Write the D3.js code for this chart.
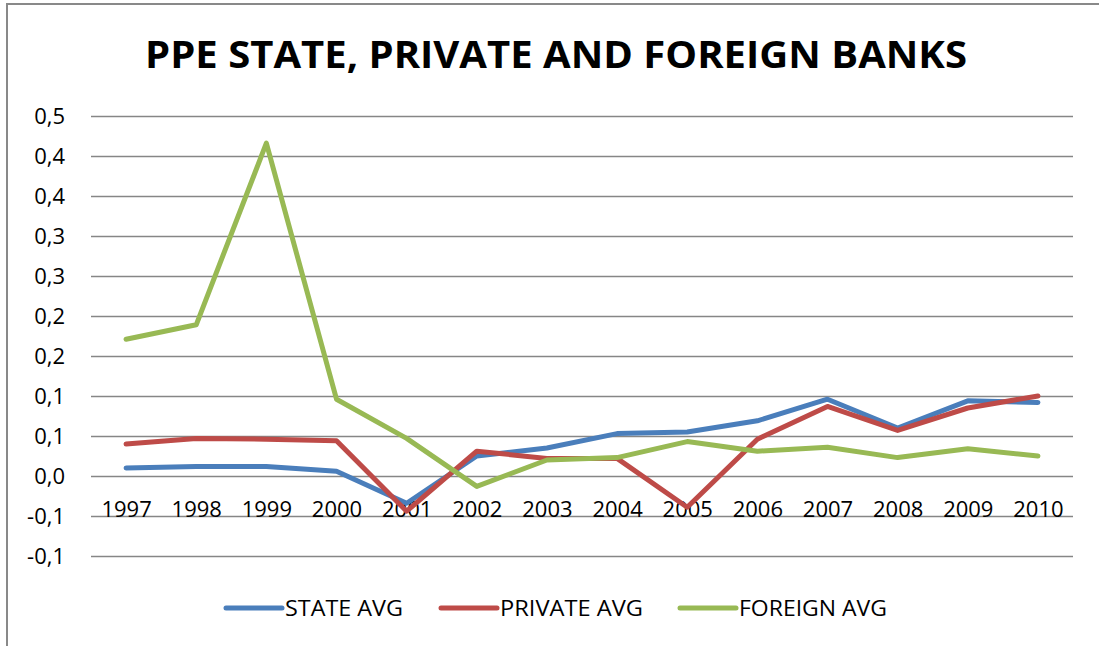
<!DOCTYPE html>
<html>
<head>
<meta charset="utf-8">
<script src="https://cdn.jsdelivr.net/npm/d3@7"></script>
<style>
  body { margin: 0; background: #fff; }
  svg { display: block; font-family: "Open Sans", sans-serif; }
</style>
</head>
<body>
<script>
// data
var years = ["1997", "1998", "1999", "2000", "2001", "2002", "2003", "2004", "2005", "2006", "2007", "2008", "2009", "2010"];
var stateAvg = [0.010, 0.012, 0.012, 0.006, -0.034, 0.025, 0.035, 0.053, 0.055, 0.069, 0.096, 0.060, 0.094, 0.092];
var privateAvg = [0.040, 0.047, 0.046, 0.044, -0.044, 0.031, 0.022, 0.022, -0.039, 0.046, 0.087, 0.057, 0.085, 0.100];
var foreignAvg = [0.171, 0.189, 0.416, 0.096, 0.047, -0.013, 0.020, 0.023, 0.043, 0.031, 0.036, 0.023, 0.034, 0.025];
var yTicks = [-0.1, -0.05, 0, 0.05, 0.1, 0.15, 0.2, 0.25, 0.3, 0.35, 0.4, 0.45];
var yTickLabels = ["-0,1", "-0,1", "0,0", "0,1", "0,1", "0,2", "0,2", "0,3", "0,3", "0,4", "0,4", "0,5"];
var seriesNames = ["STATE AVG", "PRIVATE AVG", "FOREIGN AVG"];
var seriesColors = ["#4a7ebb", "#be4b48", "#98b954"];

var width = 1099, height = 646;
var plot = { left: 91, right: 1073, top: 116, bottom: 556 };

var svg = d3.select("body").append("svg")
    .attr("width", width)
    .attr("height", height);

// chart frame
svg.append("rect")
    .attr("x", 7).attr("y", 4)
    .attr("width", 1110).attr("height", 660)
    .attr("fill", "#fff")
    .attr("stroke", "#898989")
    .attr("stroke-width", 2);

var x = d3.scalePoint()
    .domain(years)
    .range([plot.left, plot.right])
    .padding(0.5);
var y = d3.scaleLinear()
    .domain([-0.1, 0.45])
    .range([plot.bottom, plot.top]);

// gridlines
var grid = svg.append("g")
    .attr("transform", "translate(" + plot.left + ",0)")
    .call(d3.axisLeft(y).tickValues(yTicks).tickSize(-(plot.right - plot.left)).tickFormat(""));
grid.select(".domain").remove();
grid.selectAll("line").attr("stroke", "#868686").attr("stroke-width", 1.7);

// y axis labels
var yAxis = svg.append("g")
    .attr("transform", "translate(" + plot.left + ",0)")
    .call(d3.axisLeft(y).tickValues(yTicks).tickSize(0).tickPadding(26)
        .tickFormat(function(d, i) { return yTickLabels[i]; }));
yAxis.select(".domain").remove();
yAxis.selectAll("text").attr("font-size", 22).attr("fill", "#000")
    .style("font-family", "Open Sans, sans-serif");

// x axis labels, crossing at zero
var xAxis = svg.append("g")
    .attr("transform", "translate(0," + y(0) + ")")
    .call(d3.axisBottom(x).tickSize(0).tickPadding(25));
xAxis.select(".domain").remove();
xAxis.selectAll("text").attr("font-size", 22).attr("fill", "#000")
    .style("font-family", "Open Sans, sans-serif");

// lines
var line = d3.line()
    .x(function(d, i) { return x(years[i]); })
    .y(function(d) { return y(d); });

[stateAvg, privateAvg, foreignAvg].forEach(function(vals, k) {
    svg.append("path")
        .datum(vals)
        .attr("d", line)
        .attr("fill", "none")
        .attr("stroke", seriesColors[k])
        .attr("stroke-width", 5)
        .attr("stroke-linejoin", "round")
        .attr("stroke-linecap", "round");
});

// title
svg.append("text")
    .attr("x", 556).attr("y", 68)
    .attr("text-anchor", "middle")
    .attr("font-size", 38)
    .attr("font-weight", "bold")
    .attr("textLength", 822)
    .attr("lengthAdjust", "spacingAndGlyphs")
    .text("PPE STATE, PRIVATE AND FOREIGN BANKS");

// legend
var legendX = [226, 441, 680];
var legendW = [118, 143, 148];
var legend = svg.append("g");
seriesNames.forEach(function(name, k) {
    legend.append("line")
        .attr("x1", legendX[k]).attr("x2", legendX[k] + 56)
        .attr("y1", 608).attr("y2", 608)
        .attr("stroke", seriesColors[k])
        .attr("stroke-width", 5)
        .attr("stroke-linecap", "round");
    legend.append("text")
        .attr("x", legendX[k] + 59).attr("y", 616)
        .attr("font-size", 22)
        .attr("textLength", legendW[k])
        .attr("lengthAdjust", "spacingAndGlyphs")
        .text(name);
});
</script>
</body>
</html>
